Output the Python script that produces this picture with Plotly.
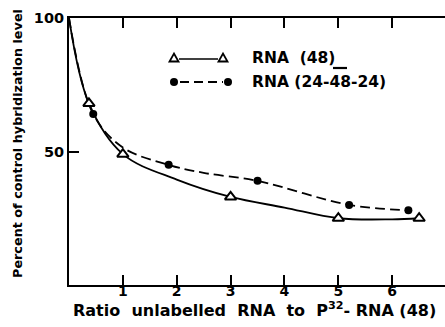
import plotly.graph_objects as go

# ---- data ----
tri_x = [0.37, 1.0, 3.0, 5.0, 6.5]
tri_y = [68, 49, 33, 25, 25]
dot_x = [0.45, 1.85, 3.5, 5.2, 6.3]
dot_y = [64, 45, 39, 30, 28]

# fitted curves
solid_x = [0, 0.37, 1.0, 2.0, 3.0, 4.0, 5.0, 6.0, 6.5]
solid_y = [100, 68, 49, 39.5, 33, 29, 25, 24.6, 25]
dash_x = [0, 0.45, 1.0, 1.85, 2.5, 3.5, 5.2, 6.3]
dash_y = [100, 64, 51.5, 45, 42, 39, 30, 28]

x_ticks = [1, 2, 3, 4, 5, 6]
y_ticks = [50, 100]
y_ticklabels = ["50", "100"]

legend_labels = ["RNA  (48)", "RNA (24-48-24)"]
x_title = "Ratio  unlabelled  RNA  to  P<sup>32</sup>- RNA (48)"
y_title = "Percent of control hybridization level"

FONT = "DejaVu Sans"
W, H = 445, 327
ML, MR, MT, MB = 69, 0, 18, 42
PW, PH = W - ML - MR, H - MT - MB


def px(x):
    return (x - ML) / PW


def py(y):
    return (H - MB - y) / PH


fig = go.Figure()
fig.add_trace(go.Scatter(x=solid_x, y=solid_y, mode="lines",
                         line=dict(color="black", width=1.8, shape="spline", smoothing=1.0),
                         showlegend=False, hoverinfo="skip"))
fig.add_trace(go.Scatter(x=dash_x, y=dash_y, mode="lines",
                         line=dict(color="black", width=1.8, dash="10px,5px", shape="spline", smoothing=1.0),
                         showlegend=False, hoverinfo="skip"))
fig.add_trace(go.Scatter(x=tri_x, y=tri_y, mode="markers",
                         marker=dict(symbol="triangle-up", size=10, color="white",
                                     line=dict(color="black", width=2)),
                         name=legend_labels[0], showlegend=False))
fig.add_trace(go.Scatter(x=dot_x, y=dot_y, mode="markers",
                         marker=dict(symbol="circle", size=8, color="black"),
                         name=legend_labels[1], showlegend=False))

# ---- hand-drawn style legend ----
shapes = []
r1, r2 = 58, 82
# row 1: triangle - solid - triangle
shapes.append(dict(type="line", xref="paper", yref="paper",
                   x0=px(179), x1=px(218), y0=py(r1 + 1), y1=py(r1 + 1),
                   line=dict(color="black", width=1.6)))
for cx in (174, 223):
    path = "M {},{} L {},{} L {},{} Z".format(px(cx - 4.5), py(r1 + 3.5), px(cx + 4.5), py(r1 + 3.5),
                                            px(cx), py(r1 - 4.5))
    shapes.append(dict(type="path", xref="paper", yref="paper", path=path,
                       fillcolor="white", line=dict(color="black", width=1.8)))
# row 2: dot - dash - dot
shapes.append(dict(type="line", xref="paper", yref="paper",
                   x0=px(180), x1=px(223), y0=py(r2), y1=py(r2),
                   line=dict(color="black", width=1.8, dash="9px,5px")))
for cx in (174, 228):
    shapes.append(dict(type="circle", xref="paper", yref="paper",
                       x0=px(cx - 4), x1=px(cx + 4), y0=py(r2 - 4), y1=py(r2 + 4),
                       fillcolor="black", line=dict(color="black", width=0)))
# overline bar over "48"
shapes.append(dict(type="line", xref="paper", yref="paper",
                   x0=px(333), x1=px(347), y0=py(68), y1=py(68),
                   line=dict(color="black", width=2.2)))

annotations = [
    dict(x=px(250), y=py(r1), xref="paper", yref="paper", text="<b>" + legend_labels[0] + "</b>",
         showarrow=False, xanchor="left", yanchor="middle",
         font=dict(family=FONT, size=15.5, color="black")),
    dict(x=px(250), y=py(r2), xref="paper", yref="paper", text="<b>" + legend_labels[1] + "</b>",
         showarrow=False, xanchor="left", yanchor="middle",
         font=dict(family=FONT, size=15.5, color="black")),
    # axis titles
    dict(x=px(254), y=py(309), xref="paper", yref="paper", text="<b>" + x_title + "</b>",
         showarrow=False, xanchor="center", yanchor="middle",
         font=dict(family=FONT, size=16, color="black")),
    dict(x=px(17), y=py(144), xref="paper", yref="paper", text="<b>" + y_title + "</b>",
         showarrow=False, xanchor="center", yanchor="middle", textangle=-90,
         font=dict(family=FONT, size=12.8, color="black")),
]

fig.update_layout(
    width=W, height=H,
    margin=dict(l=ML, r=MR, t=MT, b=MB, pad=0),
    paper_bgcolor="white", plot_bgcolor="white",
    showlegend=False,
    shapes=shapes, annotations=annotations,
    font=dict(family=FONT, color="black"),
    xaxis=dict(range=[0, 6.98], tickvals=x_ticks, ticks="inside", ticklen=10, tickwidth=2,
               tickcolor="black", showline=True, linewidth=2, linecolor="black", mirror="ticks",
               showgrid=False, zeroline=False, ticklabelstandoff=-8,
               tickfont=dict(family=FONT, size=14, color="black", weight="bold")),
    yaxis=dict(range=[0, 100], tickvals=y_ticks, ticktext=y_ticklabels, ticks="inside",
               ticklen=10, tickwidth=2, tickcolor="black", showline=True, linewidth=2,
               linecolor="black", mirror=False, showgrid=False, zeroline=False,
               tickfont=dict(family=FONT, size=14.5, color="black", weight="bold")),
    yaxis2=dict(range=[0, 100], overlaying="y", side="right", tickvals=[50], ticks="inside",
                ticklen=10, tickwidth=2, tickcolor="black", showline=False,
                showticklabels=False, showgrid=False, zeroline=False),
)

fig.write_html("out.html")
